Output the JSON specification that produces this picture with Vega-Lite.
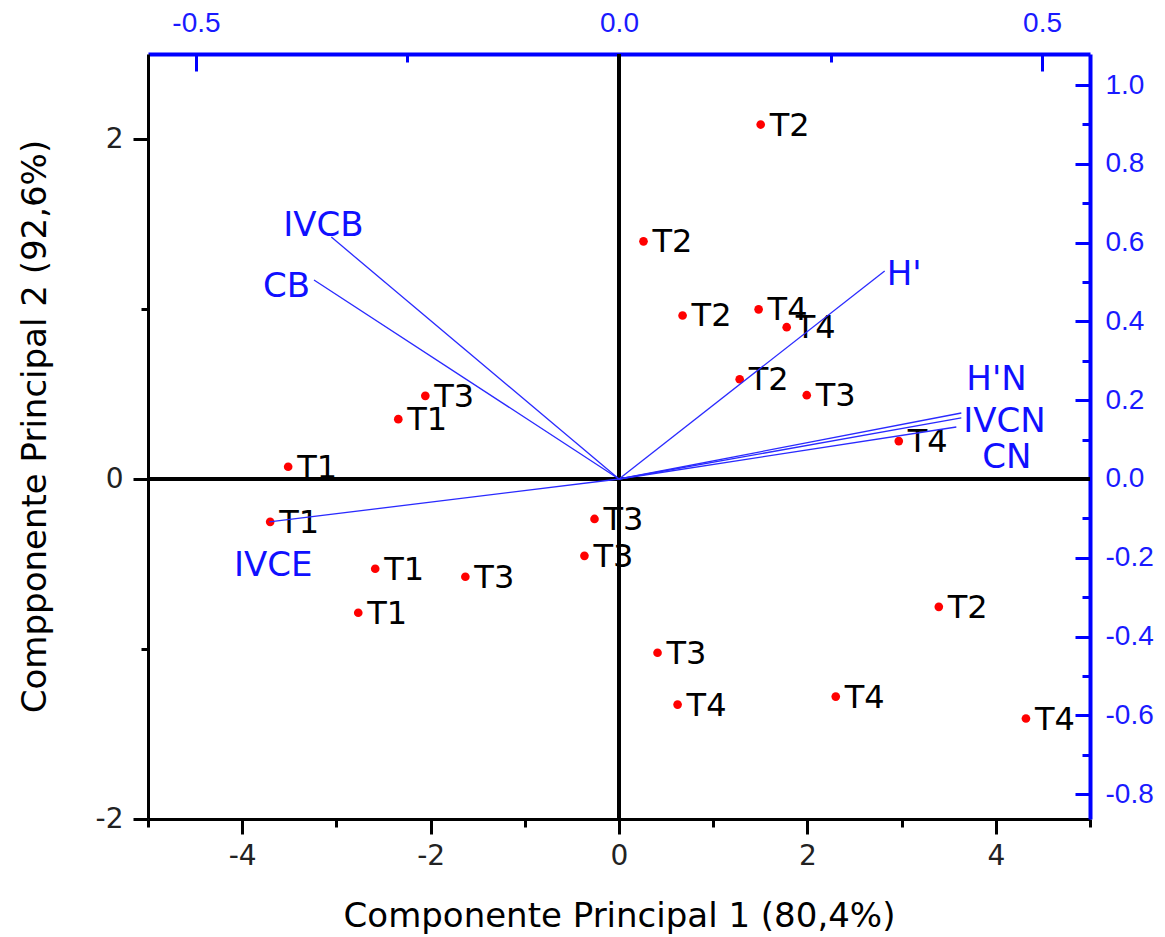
{
  "$schema": "https://vega.github.io/schema/vega-lite/v6.json",
  "width": 942,
  "height": 765,
  "autosize": {"type": "none"},
  "padding": {"left": 148, "top": 54, "right": 75, "bottom": 118},
  "background": "white",
  "config": {
    "view": {"stroke": null},
    "axis": {"grid": false, "labelFont": "DejaVu Sans", "titleFont": "DejaVu Sans", "titleFontWeight": "normal"},
    "text": {"font": "DejaVu Sans"}
  },
  "datasets": {
    "scores": [
      {"trat": "T2", "pc1": 1.504, "pc2": 2.085},
      {"trat": "T2", "pc1": 0.260, "pc2": 1.398},
      {"trat": "T2", "pc1": 0.675, "pc2": 0.962},
      {"trat": "T4", "pc1": 1.482, "pc2": 0.998},
      {"trat": "T4", "pc1": 1.780, "pc2": 0.893},
      {"trat": "T2", "pc1": 1.281, "pc2": 0.587},
      {"trat": "T3", "pc1": 1.993, "pc2": 0.493},
      {"trat": "T4", "pc1": 2.970, "pc2": 0.223},
      {"trat": "T3", "pc1": -2.056, "pc2": 0.489},
      {"trat": "T1", "pc1": -2.343, "pc2": 0.352},
      {"trat": "T1", "pc1": -3.512, "pc2": 0.072},
      {"trat": "T1", "pc1": -3.703, "pc2": -0.252},
      {"trat": "T3", "pc1": -0.260, "pc2": -0.235},
      {"trat": "T3", "pc1": -0.367, "pc2": -0.452},
      {"trat": "T1", "pc1": -2.588, "pc2": -0.528},
      {"trat": "T3", "pc1": -1.631, "pc2": -0.575},
      {"trat": "T1", "pc1": -2.768, "pc2": -0.787},
      {"trat": "T2", "pc1": 3.395, "pc2": -0.752},
      {"trat": "T3", "pc1": 0.409, "pc2": -1.022},
      {"trat": "T4", "pc1": 0.622, "pc2": -1.327},
      {"trat": "T4", "pc1": 2.301, "pc2": -1.280},
      {"trat": "T4", "pc1": 4.320, "pc2": -1.409}
    ],
    "loadings": [
      {"var": "IVCB", "l1": -0.340, "l2": 0.614},
      {"var": "CB", "l1": -0.3605, "l2": 0.505},
      {"var": "H'", "l1": 0.314, "l2": 0.528},
      {"var": "H'N", "l1": 0.4046, "l2": 0.1675},
      {"var": "IVCN", "l1": 0.4046, "l2": 0.155},
      {"var": "CN", "l1": 0.3987, "l2": 0.132},
      {"var": "IVCE", "l1": -0.4134, "l2": -0.109}
    ]
  },
  "layer": [
    {
      "data": {"name": "scores"},
      "layer": [
        {
          "mark": {"type": "rule", "color": "black", "strokeWidth": 3},
          "encoding": {"x": {"datum": 0, "type": "quantitative", "scale": {"domain": [-5, 5], "nice": false, "zero": false}}}
        },
        {
          "mark": {"type": "rule", "color": "black", "strokeWidth": 3},
          "encoding": {"y": {"datum": 0, "type": "quantitative", "scale": {"domain": [-2, 2.5], "nice": false, "zero": false}}}
        },
        {
          "mark": {"type": "circle", "color": "#ff0000", "opacity": 1, "size": 75},
          "encoding": {
            "x": {
              "field": "pc1", "type": "quantitative",
              "scale": {"domain": [-5, 5], "nice": false, "zero": false},
              "axis": {
                "orient": "bottom",
                "values": [-5, -4, -3, -2, -1, 0, 1, 2, 3, 4, 5],
                "labelExpr": "datum.value % 2 === 0 && abs(datum.value) < 5 ? toString(datum.value) : ''",
                "tickSize": {"condition": {"test": "datum.value % 2 !== 0", "value": 8}, "value": 15},
                "tickWidth": 3, "tickColor": "black",
                "domainColor": "black", "domainWidth": 3,
                "labelFontSize": 28, "labelColor": "#222222", "labelPadding": 8,
                "labelOverlap": false, "labelFlush": false,
                "title": "Componente Principal 1 (80,4%)",
                "titleFontSize": 34, "titleColor": "black",
                "titleY": 97, "titleBaseline": "middle"
              }
            },
            "y": {
              "field": "pc2", "type": "quantitative",
              "scale": {"domain": [-2, 2.5], "nice": false, "zero": false},
              "axis": {
                "orient": "left",
                "values": [-2, -1, 0, 1, 2],
                "labelExpr": "datum.value % 2 === 0 ? toString(datum.value) : ''",
                "tickSize": {"condition": {"test": "datum.value % 2 !== 0", "value": 7}, "value": 15},
                "tickWidth": 3, "tickColor": "black",
                "domainColor": "black", "domainWidth": 3,
                "labelFontSize": 28, "labelColor": "#222222", "labelPadding": 10,
                "labelOverlap": false, "labelFlush": false,
                "title": "Compponente Principal 2 (92,6%)",
                "titleFontSize": 34, "titleColor": "black",
                "titleX": -113, "titleY": 372, "titleBaseline": "middle"
              }
            }
          }
        },
        {
          "mark": {"type": "text", "align": "left", "baseline": "middle", "dx": 9, "dy": 1, "fontSize": 32, "color": "black"},
          "encoding": {
            "x": {"field": "pc1", "type": "quantitative", "scale": {"domain": [-5, 5], "nice": false, "zero": false}},
            "y": {"field": "pc2", "type": "quantitative", "scale": {"domain": [-2, 2.5], "nice": false, "zero": false}},
            "text": {"field": "trat"}
          }
        }
      ]
    },
    {
      "data": {"name": "loadings"},
      "layer": [
        {
          "mark": {"type": "rule", "color": "#2a2aff", "strokeWidth": 1.3},
          "encoding": {
            "x": {
              "field": "l1", "type": "quantitative",
              "scale": {"domain": [-0.5567, 0.5567], "nice": false, "zero": false},
              "axis": {
                "orient": "top",
                "values": [-0.5, -0.25, 0, 0.25, 0.5],
                "labelExpr": "abs(datum.value * 2 - round(datum.value * 2)) < 0.000001 ? replace(format(datum.value, '.1f'), '\u2212', '-') : ''",
                "tickSize": {"condition": {"test": "abs(datum.value * 2 - round(datum.value * 2)) > 0.000001", "value": -8}, "value": -17},
                "tickWidth": 3, "tickColor": "#0000ff",
                "domainColor": "#0000ff", "domainWidth": 4,
                "labelFont": "Liberation Sans",
                "labelFontSize": 28, "labelColor": "#1a1aff", "labelPadding": 34,
                "labelOverlap": false, "labelFlush": false,
                "title": null
              }
            },
            "y": {
              "field": "l2", "type": "quantitative",
              "scale": {"domain": [-0.863, 1.0787], "nice": false, "zero": false},
              "axis": {
                "orient": "right",
                "values": [-0.8, -0.7, -0.6, -0.5, -0.4, -0.3, -0.2, -0.1, 0, 0.1, 0.2, 0.3, 0.4, 0.5, 0.6, 0.7, 0.8, 0.9, 1.0],
                "labelExpr": "round(datum.value * 10) % 2 === 0 ? replace(format(datum.value, '.1f'), '\u2212', '-') : ''",
                "tickSize": {"condition": {"test": "round(datum.value * 10) % 2 !== 0", "value": -8}, "value": -15},
                "tickWidth": 3, "tickColor": "#0000ff",
                "domainColor": "#0000ff", "domainWidth": 4,
                "labelFont": "Liberation Sans",
                "labelFontSize": 28, "labelColor": "#1a1aff", "labelPadding": 30,
                "labelOverlap": false, "labelFlush": false,
                "title": null
              }
            },
            "x2": {"datum": 0},
            "y2": {"datum": 0}
          }
        },
        {
          "transform": [{"filter": "datum.var === 'IVCB'"}],
          "mark": {"type": "text", "align": "center", "baseline": "middle", "dx": -8, "dy": -11, "fontSize": 34, "color": "#1010ff"},
          "encoding": {
            "x": {"field": "l1", "type": "quantitative", "scale": {"domain": [-0.5567, 0.5567], "nice": false, "zero": false}},
            "y": {"field": "l2", "type": "quantitative", "scale": {"domain": [-0.863, 1.0787], "nice": false, "zero": false}},
            "text": {"field": "var"}
          }
        },
        {
          "transform": [{"filter": "datum.var === 'CB'"}],
          "mark": {"type": "text", "align": "right", "baseline": "middle", "dx": -4, "dy": 7, "fontSize": 34, "color": "#1010ff"},
          "encoding": {
            "x": {"field": "l1", "type": "quantitative", "scale": {"domain": [-0.5567, 0.5567], "nice": false, "zero": false}},
            "y": {"field": "l2", "type": "quantitative", "scale": {"domain": [-0.863, 1.0787], "nice": false, "zero": false}},
            "text": {"field": "var"}
          }
        },
        {
          "transform": [{"filter": "datum.var === \"H'\""}],
          "mark": {"type": "text", "align": "left", "baseline": "middle", "dx": 2, "dy": 4, "fontSize": 34, "color": "#1010ff"},
          "encoding": {
            "x": {"field": "l1", "type": "quantitative", "scale": {"domain": [-0.5567, 0.5567], "nice": false, "zero": false}},
            "y": {"field": "l2", "type": "quantitative", "scale": {"domain": [-0.863, 1.0787], "nice": false, "zero": false}},
            "text": {"field": "var"}
          }
        },
        {
          "transform": [{"filter": "datum.var === \"H'N\""}],
          "mark": {"type": "text", "align": "left", "baseline": "middle", "dx": 5, "dy": -33, "fontSize": 34, "color": "#1010ff"},
          "encoding": {
            "x": {"field": "l1", "type": "quantitative", "scale": {"domain": [-0.5567, 0.5567], "nice": false, "zero": false}},
            "y": {"field": "l2", "type": "quantitative", "scale": {"domain": [-0.863, 1.0787], "nice": false, "zero": false}},
            "text": {"field": "var"}
          }
        },
        {
          "transform": [{"filter": "datum.var === 'IVCN'"}],
          "mark": {"type": "text", "align": "left", "baseline": "middle", "dx": 2, "dy": 4, "fontSize": 34, "color": "#1010ff"},
          "encoding": {
            "x": {"field": "l1", "type": "quantitative", "scale": {"domain": [-0.5567, 0.5567], "nice": false, "zero": false}},
            "y": {"field": "l2", "type": "quantitative", "scale": {"domain": [-0.863, 1.0787], "nice": false, "zero": false}},
            "text": {"field": "var"}
          }
        },
        {
          "transform": [{"filter": "datum.var === 'CN'"}],
          "mark": {"type": "text", "align": "left", "baseline": "middle", "dx": 26, "dy": 31, "fontSize": 34, "color": "#1010ff"},
          "encoding": {
            "x": {"field": "l1", "type": "quantitative", "scale": {"domain": [-0.5567, 0.5567], "nice": false, "zero": false}},
            "y": {"field": "l2", "type": "quantitative", "scale": {"domain": [-0.863, 1.0787], "nice": false, "zero": false}},
            "text": {"field": "var"}
          }
        },
        {
          "transform": [{"filter": "datum.var === 'IVCE'"}],
          "mark": {"type": "text", "align": "center", "baseline": "middle", "dx": 4, "dy": 44, "fontSize": 34, "color": "#1010ff"},
          "encoding": {
            "x": {"field": "l1", "type": "quantitative", "scale": {"domain": [-0.5567, 0.5567], "nice": false, "zero": false}},
            "y": {"field": "l2", "type": "quantitative", "scale": {"domain": [-0.863, 1.0787], "nice": false, "zero": false}},
            "text": {"field": "var"}
          }
        }
      ]
    }
  ],
  "resolve": {"scale": {"x": "independent", "y": "independent"}, "axis": {"x": "independent", "y": "independent"}}
}
